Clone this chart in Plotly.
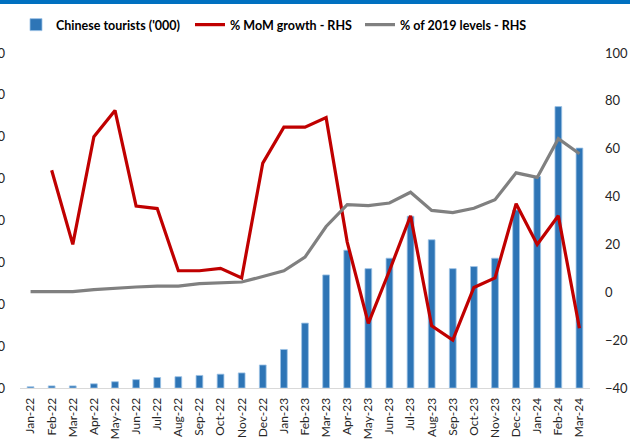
import plotly.graph_objects as go

months = ["Jan-22","Feb-22","Mar-22","Apr-22","May-22","Jun-22","Jul-22","Aug-22","Sep-22","Oct-22","Nov-22","Dec-22",
          "Jan-23","Feb-23","Mar-23","Apr-23","May-23","Jun-23","Jul-23","Aug-23","Sep-23","Oct-23","Nov-23","Dec-23",
          "Jan-24","Feb-24","Mar-24"]
tourists = [3, 5, 5, 10, 15, 20, 25, 27, 30, 33, 36, 55,
            92, 155, 270, 329, 285, 310, 410, 354, 285, 290, 310, 425,
            505, 672, 573]
mom_growth = [None, 51, 20, 65, 76, 36, 35, 9, 9, 10, 6, 54,
              69, 69, 73, 21, -13, 9, 32, -14, -20, 2, 6, 37,
              20, 32, -15]
pct_2019 = [0.3, 0.3, 0.3, 1.1, 1.8, 2.2, 2.6, 2.6, 3.6, 4.0, 4.3, 6.6,
            9, 14.7, 27.5, 36.6, 36.2, 37.3, 41.8, 34.2, 33.3, 35.1, 38.7, 49.9,
            48, 64.2, 57.9]
left_ticks = [0, 100, 200, 300, 400, 500, 600, 700, 800]
right_ticks = [-40, -20, 0, 20, 40, 60, 80, 100]

W, H = 630, 444
L, R, T, B = 20, 40, 53, 56
PH = H - T - B

fig = go.Figure()
fig.add_trace(go.Bar(x=months, y=tourists, name="Chinese tourists ('000)",
                     marker=dict(color="#2E75B6", line=dict(color="#9DC3E6", width=0.8)),
                     legend="legend"))
fig.add_trace(go.Scatter(x=months, y=mom_growth, name="% MoM growth - RHS", mode="lines",
                         line=dict(color="#C00000", width=3.2), yaxis="y2", legend="legend2",
                         connectgaps=False))
fig.add_trace(go.Scatter(x=months, y=pct_2019, name="% of 2019 levels - RHS", mode="lines",
                         line=dict(color="#808080", width=3.2), yaxis="y2", legend="legend3"))

tickfont = dict(family="Lato", size=13, color="#262626")
legfont = dict(family="Lato", size=12.5, color="#000000", weight="bold")

def leg(xpx):
    return dict(orientation="h", x=xpx / W, xref="container", xanchor="left",
                y=1 - 25 / H, yref="container", yanchor="middle",
                font=legfont, bgcolor="rgba(0,0,0,0)", borderwidth=0,
                itemwidth=30, tracegroupgap=0)

fig.update_layout(
    width=W, height=H,
    margin=dict(l=L, r=R, t=T, b=B, pad=0),
    paper_bgcolor="white", plot_bgcolor="white",
    bargap=0.68,
    showlegend=True,
    legend=leg(16),
    legend2=leg(190),
    legend3=leg(360),
    xaxis=dict(type="category", tickangle=-90, tickfont=dict(family="Lato", size=12, color="#262626"),
               showline=True, linecolor="#D9D9D9", linewidth=1, showgrid=False, ticks="",
               automargin=False, ticklabelstandoff=4),
    yaxis=dict(range=[0, 800], tickvals=left_ticks, showgrid=False, zeroline=False, showline=False,
               tickfont=tickfont, automargin=False, ticks="", ticklabelstandoff=14),
    yaxis2=dict(range=[-40, 100], tickvals=right_ticks, overlaying="y", side="right", showgrid=False,
                zeroline=False, showline=False, tickfont=tickfont, automargin=False, ticks="",
                ticklabelstandoff=14),
    shapes=[dict(type="rect", xref="paper", yref="paper", x0=-0.1, x1=1.1,
                 y0=1 + (T - 3.5) / PH, y1=1 + (T + 2) / PH,
                 fillcolor="#0070C0", line=dict(width=0), layer="below")],
    annotations=[dict(xref="paper", yref="paper", x=0.5, y=1 + (T + 1) / PH, xanchor="center",
                      yanchor="top", text=" ", showarrow=False, width=700, height=4.5,
                      bgcolor="#0070C0", borderpad=0, borderwidth=0, font=dict(size=1))],
)

fig.write_html("out.html", config={"displayModeBar": False},
               post_script="document.body.style.margin='0';")
